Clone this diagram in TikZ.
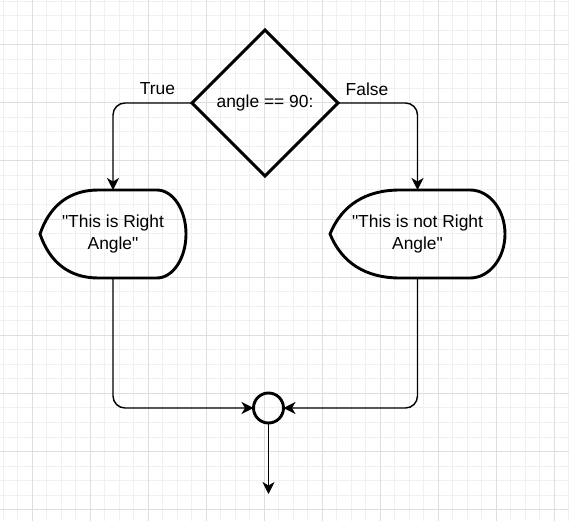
\documentclass[tikz,border=0pt]{standalone}
\usepackage{fontspec}
\setmainfont{Liberation Sans}[Ligatures=TeXOff]
\usetikzlibrary{shapes.geometric,arrows.meta,calc}

\tikzset{
  shapeline/.style={line width=2.9bp, draw=black, line join=miter},
  conn/.style={line width=1.45bp, draw=black, -{Stealth[length=12bp,width=12bp,inset=3.5bp]}, rounded corners=12bp},
  txt/.style={font=\fontsize{17.4bp}{22.7bp}\selectfont, align=center, text=black},
  decision/.style={shape=diamond, shapeline, minimum width=146bp, minimum height=146bp, inner sep=0pt, outer sep=0pt, txt, aspect=1},
  dispbox/.style={shape=rectangle, minimum width=#1, minimum height=88bp, inner sep=0pt, outer sep=0pt, txt},
  joint/.style={shape=circle, shapeline, minimum size=30bp, inner sep=0pt, outer sep=0pt},
  lbl/.style={txt, inner sep=0pt},
  minorgrid/.style={draw=black!6, line width=1bp},
  majorgrid/.style={draw=black!13, line width=1bp}
}

\newcommand\dispoutline[1]{%
  \draw[shapeline] let \p1=(#1.north west), \p2=(#1.south east) in
    (\x1,{(\y1+\y2)/2})
    .. controls ({\x1+0.068*(\x2-\x1)},{\y1-0.17*(\y1-\y2)}) and ({\x1+0.205*(\x2-\x1)},\y1) .. ({\x1+0.4*(\x2-\x1)},\y1)
    -- ({\x1+0.8*(\x2-\x1)},\y1)
    .. controls ({\x1+0.9104*(\x2-\x1)},\y1) and (\x2,{(\y1+\y2)/2+0.276*(\y1-\y2)}) .. (\x2,{(\y1+\y2)/2})
    .. controls (\x2,{(\y1+\y2)/2-0.276*(\y1-\y2)}) and ({\x1+0.9104*(\x2-\x1)},\y2) .. ({\x1+0.8*(\x2-\x1)},\y2)
    -- ({\x1+0.4*(\x2-\x1)},\y2)
    .. controls ({\x1+0.205*(\x2-\x1)},\y2) and ({\x1+0.068*(\x2-\x1)},{\y2+0.17*(\y1-\y2)}) .. cycle;}

\begin{document}
\begin{tikzpicture}[x=1bp,y=-1bp]
  \useasboundingbox (0,0) rectangle (569,521);
  \fill[white] (0,0) rectangle (569,521);
  % grid
  \foreach \k in {0,...,39} {
    \pgfmathsetmacro\gx{3.3+14.5*\k}
    \draw[minorgrid] (\gx,0) -- (\gx,521);
  }
  \foreach \k in {0,...,35} {
    \pgfmathsetmacro\gy{1.1+14.53*\k}
    \draw[minorgrid] (0,\gy) -- (569,\gy);
  }
  \foreach \k in {0,...,9} {
    \pgfmathsetmacro\gx{32.3+58*\k}
    \draw[majorgrid] (\gx,0) -- (\gx,521);
  }
  \foreach \k in {0,...,8} {
    \pgfmathsetmacro\gy{44.7+58.12*\k}
    \draw[majorgrid] (0,\gy) -- (569,\gy);
  }

  % nodes
  \node[decision] (D) at (265,103) {angle == 90:};
  \node[dispbox=146bp] (L) at (113,234) {"This is Right\\Angle"};
  \node[dispbox=175bp] (R) at (417.5,234) {"This is not Right\\Angle"};
  \dispoutline{L}
  \dispoutline{R}
  \node[joint] (C) at (268.5,408) {};
  \coordinate (out) at (268.5,494);

  % labels
  \node[lbl] (lt) at (157.5,89) {True};
  \node[lbl] (lf) at (367,89) {False};

  % connectors
  \draw[conn] (D.west) -| (L.north);
  \draw[conn] (D.east) -| (R.north);
  \draw[conn] (L.south) |- (C.west);
  \draw[conn] (R.south) |- (C.east);
  \draw[conn] (C.south) -- (out);
\end{tikzpicture}
\end{document}
